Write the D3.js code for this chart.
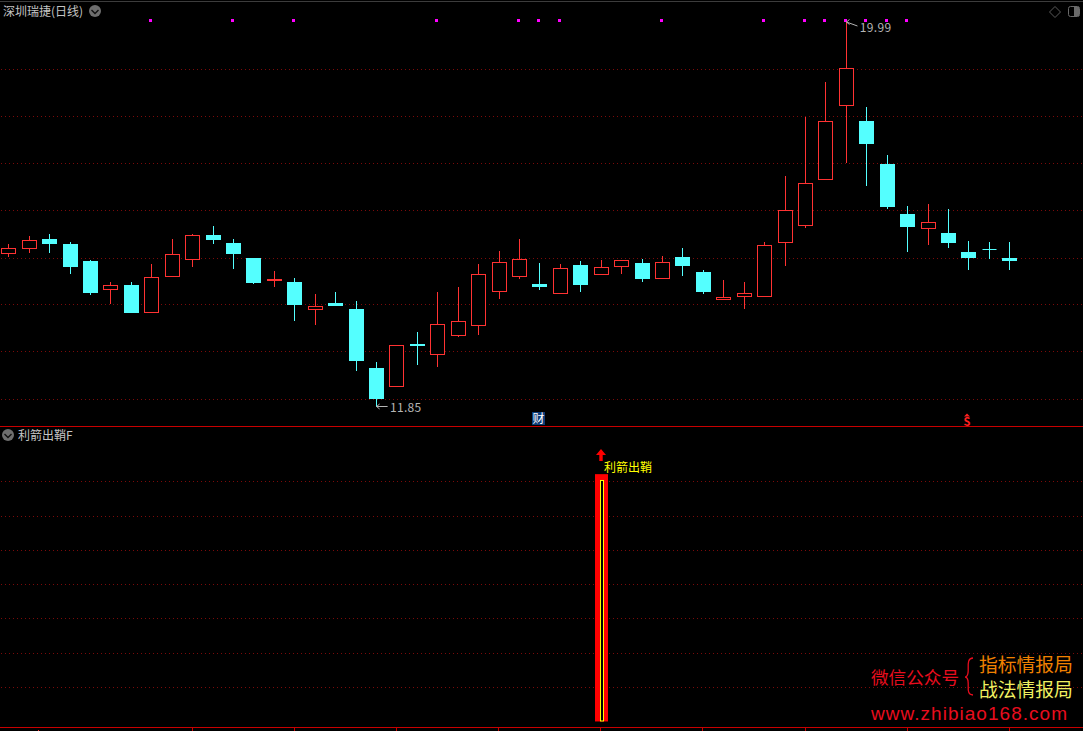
<!DOCTYPE html>
<html><head><meta charset="utf-8">
<script src="https://cdn.jsdelivr.net/npm/d3@7/dist/d3.min.js"></script>
<style>html,body{margin:0;padding:0;background:#000;overflow:hidden}svg{display:block}text{font-family:"Noto Sans CJK SC","Noto Sans",sans-serif}</style>
</head><body><div id="c"></div>
<script>
// [open, high, low, close]
const ohlc = [
[15.083,15.287,15.020,15.197],[15.188,15.456,15.104,15.365],[15.393,15.498,15.104,15.287],[15.287,15.330,14.661,14.802],
[14.929,14.950,14.212,14.254],[14.324,14.486,14.028,14.416],[14.423,14.486,13.832,13.832],[13.839,14.866,13.839,14.585],
[14.598,15.393,14.598,15.070],[14.956,15.498,14.809,15.471],[15.477,15.667,15.287,15.372],[15.308,15.393,14.760,15.076],
[14.992,14.992,14.444,14.465],[14.507,14.718,14.381,14.549],[14.486,14.570,13.664,14.001],[13.902,14.233,13.579,13.974],
[14.043,14.275,13.980,13.980],[13.917,14.085,12.609,12.820],[12.672,12.793,11.850,12.019],[12.278,13.151,12.278,13.151],
[13.178,13.432,12.736,13.136],[12.953,14.275,12.694,13.594],[13.354,14.381,13.326,13.657],[13.564,14.866,13.368,14.648],
[14.281,15.140,14.128,14.901],[14.598,15.393,14.549,14.965],[14.444,14.887,14.317,14.381],[14.239,14.866,14.239,14.775],
[14.845,14.929,14.275,14.423],[14.640,14.950,14.640,14.796],[14.809,14.950,14.655,14.944],[14.887,14.971,14.486,14.549],
[14.549,15.034,14.549,14.901],[15.013,15.203,14.612,14.823],[14.697,14.739,14.233,14.275],[14.113,14.528,14.113,14.163],
[14.176,14.486,13.917,14.248],[14.176,15.330,14.176,15.260],[15.315,16.721,14.823,15.998],[15.673,17.972,15.625,16.567],
[16.643,18.704,16.643,17.875],[18.204,19.990,17.002,18.993],[17.881,18.176,16.510,17.396],[16.974,17.164,16.025,16.068],
[15.920,16.089,15.119,15.646],[15.610,16.131,15.266,15.745],[15.519,16.025,15.203,15.308],[15.119,15.351,14.739,14.992],
[15.182,15.330,14.971,15.182],[14.992,15.330,14.739,14.929]
];
const upFlags = [1,1,0,0,0,1,0,1,1,1,0,0,0,1,0,1,0,0,0,1,0,1,1,1,1,1,0,1,0,1,1,0,1,0,0,1,1,1,1,1,1,1,0,0,0,1,0,0,0,0];
const markerIndex = [7,11,14,21,25,26,27,32,37,39,40,41,42,43,44];
const priceGrid = [18.968,17.976,16.985,15.994,14.992,14.001,13.010,12.007];
const signalGrid = [6,5,4,3,2,1,0];
const axisTicks = [9,14,19,24,29,34,39,44,49];
const signalBarIndex = 29, signalBarValue = 6.22, signalInnerValue = 6.05, signalBase = -0.99;
const labelHigh = "19.99", labelLow = "11.85";
const title1 = "深圳瑞捷(日线)", title2 = "利箭出鞘F", signalText = "利箭出鞘";

const W=1083,H=731;
const svg=d3.select("#c").append("svg").attr("width",W).attr("height",H).style("background","#000");
const x=d3.scaleLinear().domain([0,49]).range([8.3,1009.3]);
const y=d3.scaleLinear().domain([19.99,11.85]).range([21,407]);
const yS=d3.scaleLinear().domain([0,6]).range([687.5,481.7]);
const px=v=>Math.round(v)+.5;

const RED="#ff3232",CY="#54ffff",GRID="#7c0a0a",SEP="#c80000";
svg.append("line").attr("x1",0).attr("x2",W).attr("y1",1.5).attr("y2",1.5).attr("stroke","#3c3c3c");
const dotted=(sel,ys)=>sel.selectAll(null).data(ys).join("line")
  .attr("x1",1).attr("x2",W).attr("y1",d=>d).attr("y2",d=>d)
  .attr("stroke",GRID).attr("stroke-dasharray","1 3");
dotted(svg.append("g"),priceGrid.map(p=>px(y(p)-.5)));
dotted(svg.append("g"),signalGrid.map(v=>px(yS(v)-.5)));
svg.append("line").attr("x1",0).attr("x2",W).attr("y1",426.5).attr("y2",426.5).attr("stroke",SEP);
svg.append("line").attr("x1",0).attr("x2",W).attr("y1",727.5).attr("y2",727.5).attr("stroke",SEP);
svg.append("g").selectAll("line").data(axisTicks).join("line")
  .attr("x1",d=>px(x(d)-.5)).attr("x2",d=>px(x(d)-.5)).attr("y1",728).attr("y2",731).attr("stroke",SEP);
svg.append("rect").attr("x",38).attr("y",730).attr("width",1).attr("height",1).attr("fill","#ff3232");

const g=svg.append("g");
ohlc.forEach((d,i)=>{
  const [o,h,l,c]=d, up=upFlags[i]===1, col=up?RED:CY, cx=Math.round(x(i))+.5;
  const top=Math.round(y(Math.max(o,c))), bot=Math.round(y(Math.min(o,c)));
  g.append("line").attr("x1",cx).attr("x2",cx).attr("y1",Math.round(y(h))).attr("y2",Math.round(y(l))).attr("stroke",col);
  if(up){
    if(bot-top<=2){
      g.append("rect").attr("x",cx-7.5).attr("width",15).attr("y",top).attr("height",2).attr("fill",col);
    } else {
      g.append("rect").attr("x",cx-7).attr("width",14).attr("y",top+.5).attr("height",bot-top-1).attr("fill","#000").attr("stroke",col);
    }
  } else if(o===c){
    g.append("line").attr("x1",cx-7).attr("x2",cx+7).attr("y1",top+.5).attr("y2",top+.5).attr("stroke",col);
  } else {
    g.append("rect").attr("x",cx-7.5).attr("width",15).attr("y",top).attr("height",Math.max(bot-top,2)).attr("fill",col);
  }
});
svg.append("g").selectAll("rect").data(markerIndex).join("rect")
  .attr("x",d=>Math.round(x(d))-2).attr("y",19).attr("width",3).attr("height",3).attr("fill","#ff00ff");

const text=(s,xx,yy,size,fill,extra)=>{const t=svg.append("text").attr("x",xx).attr("y",yy).attr("font-size",size).attr("fill",fill).text(s);if(extra)extra(t);return t;};
text(title1,3,16,12,"#c4c4c4");
text(title2,18,440,12,"#c4c4c4");
function chevron(cx,cy){
  svg.append("circle").attr("cx",cx).attr("cy",cy).attr("r",6).attr("fill","#6e6e6e");
  svg.append("path").attr("d",`M${cx-3.5},${cy-1}L${cx},${cy+2.5}L${cx+3.5},${cy-1}`).attr("fill","none").attr("stroke","#111").attr("stroke-width",1.4);
}
chevron(95,11);chevron(8,435);
svg.append("path").attr("d","M1055,6.5L1060.5,12L1055,17.5L1049.5,12Z").attr("fill","none").attr("stroke","#5a5a5a");
svg.append("rect").attr("x",1068.5).attr("y",6.5).attr("width",11).attr("height",10).attr("rx",2).attr("fill","none").attr("stroke","#6a6a6a");
svg.append("rect").attr("x",1074).attr("y",7).attr("width",5).attr("height",9).attr("fill","#6a6a6a");
function extreme(i,price,label,dy,slope,tdy){
  const cx=x(i)+.6,yy=y(price)+dy;
  svg.append("path").attr("d",`M${cx},${yy}L${cx+11},${yy+slope}M${cx},${yy}l3,-2.5M${cx},${yy}l3,2.5`).attr("fill","none").attr("stroke","#b4b4b4");
  text(label,cx+13.4,yy+tdy,12,"#b4b4b4",t=>t.attr("letter-spacing",.3));
}
extreme(41,19.99,labelHigh,1,4,10);
extreme(18,11.85,labelLow,-.5,0,5);
svg.append("rect").attr("x",532).attr("y",412).attr("width",13).attr("height",13).attr("fill","#0c3c78");
text("财",532.5,423,12,"#fff");
svg.append("path").attr("d","M967,413.5L970,416.5H964Z").attr("fill","#ff2020");
text("S",963.6,425.5,11,"#ff2020",t=>t.attr("font-weight","bold"));

const bx=Math.round(x(signalBarIndex))-1, b0=yS(signalBase), bt=yS(signalBarValue), bi=yS(signalInnerValue);
svg.append("rect").attr("x",bx-5).attr("y",bt).attr("width",13).attr("height",b0-bt).attr("fill","#ff0000");
svg.append("rect").attr("x",bx+.5).attr("y",bi+.5).attr("width",3).attr("height",b0-bi-1).attr("fill","#000").attr("stroke","#ffff00");
const ax=bx+1;
svg.append("path").attr("d",`M${ax},449L${ax+5},455H${ax+1.7}V461H${ax-1.7}V455H${ax-5}Z`).attr("fill","#ff0000");
text(signalText,604,472,12,"#ffff00");

text("微信公众号",871,684,17.6,"#e80d1e");
svg.append("path").attr("d","M973,658C966,658 969,668 968,673C967.5,676 966,677 965,677C966,677 967.5,678 968,681C969,686 966,695 973,695")
  .attr("fill","none").attr("stroke","#e80d1e").attr("stroke-width",1.3);
text("指标情报局",979,672,18.8,"#f08000");
text("战法情报局",979,697,18.8,"#f0f060");
text("www.zhibiao168.com",871,720,19,"#e80d1e",t=>t.style("font-family","'Liberation Sans'").attr("letter-spacing",1.03));
</script></body></html>
